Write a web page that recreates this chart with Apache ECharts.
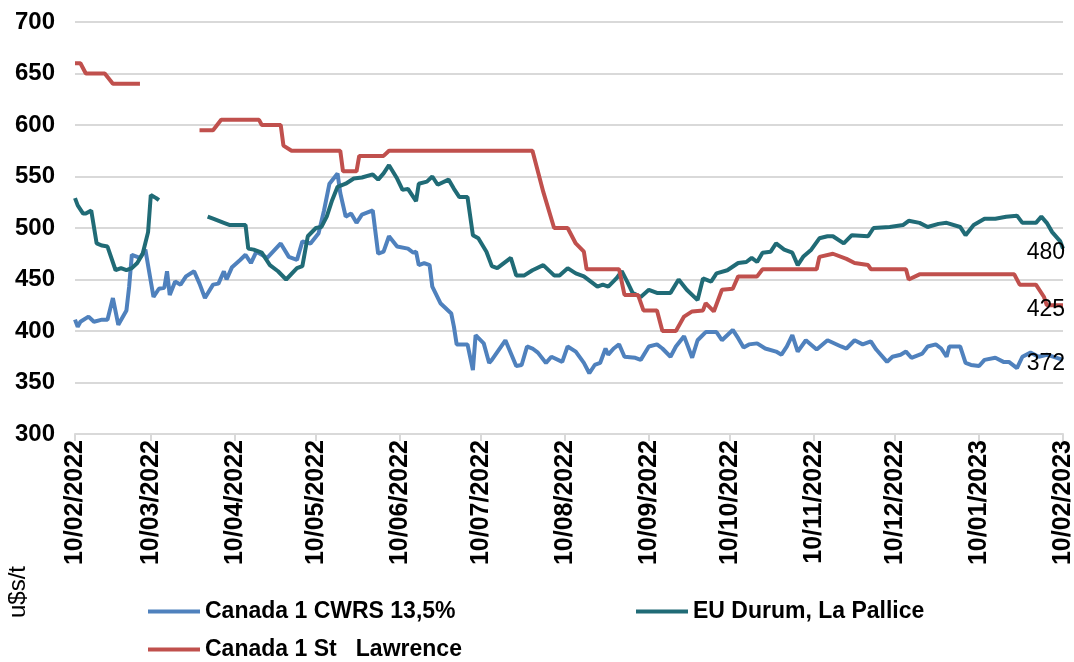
<!DOCTYPE html>
<html>
<head>
<meta charset="utf-8">
<script src="https://cdn.jsdelivr.net/npm/echarts@6/dist/echarts.min.js"></script>
<style>
  html, body { margin: 0; padding: 0; background: #fff; }
  #main { width: 1074px; height: 662px; }
</style>
</head>
<body>
<div id="main"></div>
<script>
// 周期: 10/02/2022 - 10/02/2023, u$s/t
const startDate = '2022-02-10';
const endDate = '2023-02-10';
const tickDates = ['2022-02-10', '2022-03-10', '2022-04-10', '2022-05-10', '2022-06-10', '2022-07-10',
  '2022-08-10', '2022-09-10', '2022-10-10', '2022-11-10', '2022-12-10', '2023-01-10', '2023-02-10'];
const yTicks = [300, 350, 400, 450, 500, 550, 600, 650, 700];

const seriesNames = ['Canada 1 CWRS 13,5%', 'EU Durum, La Pallice', 'Canada 1 St   Lawrence'];
const seriesColors = ['#4F81BD', '#206B76', '#C0504D'];

const cwrs = [
  ['2022-02-10', 411], ['2022-02-11', 404], ['2022-02-12', 409], ['2022-02-15', 414], ['2022-02-17', 409],
  ['2022-02-20', 411], ['2022-02-22', 411], ['2022-02-24', 432], ['2022-02-26', 406], ['2022-03-01', 420],
  ['2022-03-02', 443], ['2022-03-03', 474], ['2022-03-06', 471], ['2022-03-08', 479], ['2022-03-11', 433],
  ['2022-03-13', 441], ['2022-03-15', 442], ['2022-03-16', 458], ['2022-03-17', 435], ['2022-03-19', 448],
  ['2022-03-21', 445], ['2022-03-23', 453], ['2022-03-26', 458], ['2022-03-28', 446], ['2022-03-30', 432],
  ['2022-04-02', 445], ['2022-04-04', 446], ['2022-04-06', 458], ['2022-04-07', 450], ['2022-04-09', 462],
  ['2022-04-12', 469], ['2022-04-14', 474], ['2022-04-16', 466], ['2022-04-18', 477], ['2022-04-22', 471],
  ['2022-04-27', 485], ['2022-04-30', 472], ['2022-05-03', 469], ['2022-05-05', 487], ['2022-05-08', 485],
  ['2022-05-11', 495], ['2022-05-13', 517], ['2022-05-15', 543], ['2022-05-18', 553], ['2022-05-19', 534],
  ['2022-05-21', 511], ['2022-05-23', 514], ['2022-05-25', 505], ['2022-05-27', 513], ['2022-05-31', 517],
  ['2022-06-02', 475], ['2022-06-04', 477], ['2022-06-06', 492], ['2022-06-09', 482], ['2022-06-13', 480],
  ['2022-06-15', 476], ['2022-06-16', 477], ['2022-06-17', 464], ['2022-06-19', 466], ['2022-06-21', 464],
  ['2022-06-22', 443], ['2022-06-25', 427], ['2022-06-29', 417], ['2022-06-30', 404], ['2022-07-01', 387],
  ['2022-07-05', 387], ['2022-07-07', 362], ['2022-07-08', 396], ['2022-07-11', 388], ['2022-07-13', 369],
  ['2022-07-14', 372], ['2022-07-19', 391], ['2022-07-23', 366], ['2022-07-25', 367], ['2022-07-27', 385],
  ['2022-07-29', 383], ['2022-07-31', 379], ['2022-08-03', 369], ['2022-08-05', 375], ['2022-08-09', 370],
  ['2022-08-11', 385], ['2022-08-14', 380], ['2022-08-17', 369], ['2022-08-19', 359], ['2022-08-21', 367],
  ['2022-08-23', 369], ['2022-08-25', 383], ['2022-08-26', 377], ['2022-08-28', 383], ['2022-08-30', 387],
  ['2022-09-01', 375], ['2022-09-05', 374], ['2022-09-07', 372], ['2022-09-10', 385], ['2022-09-13', 387],
  ['2022-09-15', 383], ['2022-09-18', 375], ['2022-09-20', 385], ['2022-09-23', 395], ['2022-09-26', 374],
  ['2022-09-28', 391], ['2022-10-01', 399], ['2022-10-05', 399], ['2022-10-07', 391], ['2022-10-11', 401],
  ['2022-10-13', 393], ['2022-10-15', 384], ['2022-10-17', 387], ['2022-10-20', 388], ['2022-10-23', 383],
  ['2022-10-27', 380], ['2022-10-29', 377], ['2022-10-31', 385], ['2022-11-02', 396], ['2022-11-04', 380],
  ['2022-11-07', 391], ['2022-11-11', 382], ['2022-11-15', 391], ['2022-11-20', 385], ['2022-11-22', 383],
  ['2022-11-25', 391], ['2022-11-28', 387], ['2022-12-01', 390], ['2022-12-03', 382], ['2022-12-07', 370],
  ['2022-12-09', 375], ['2022-12-12', 377], ['2022-12-14', 380], ['2022-12-16', 374], ['2022-12-20', 378],
  ['2022-12-22', 385], ['2022-12-25', 387], ['2022-12-27', 383], ['2022-12-29', 375], ['2022-12-30', 385],
  ['2023-01-03', 385], ['2023-01-05', 369], ['2023-01-07', 367], ['2023-01-10', 366], ['2023-01-12', 372],
  ['2023-01-16', 374], ['2023-01-19', 370], ['2023-01-21', 370], ['2023-01-24', 364], ['2023-01-26', 375],
  ['2023-01-29', 379], ['2023-02-01', 375], ['2023-02-04', 377], ['2023-02-10', 372]
];

const durum = [
  ['2022-02-10', 529], ['2022-02-11', 522], ['2022-02-13', 514], ['2022-02-14', 514], ['2022-02-16', 517],
  ['2022-02-18', 485], ['2022-02-20', 483], ['2022-02-22', 482], ['2022-02-25', 459], ['2022-02-27', 461],
  ['2022-03-01', 459], ['2022-03-03', 461], ['2022-03-05', 466], ['2022-03-07', 475], ['2022-03-09', 496],
  ['2022-03-10', 532], ['2022-03-12', 529], ['2022-03-13', 527],
  ['2022-03-22', null],
  ['2022-03-31', 511], ['2022-04-02', 509], ['2022-04-06', 505], ['2022-04-08', 503], ['2022-04-14', 503],
  ['2022-04-15', 480], ['2022-04-17', 479], ['2022-04-20', 476], ['2022-04-23', 464], ['2022-04-26', 458],
  ['2022-04-29', 450], ['2022-05-03', 461], ['2022-05-05', 463], ['2022-05-07', 492], ['2022-05-10', 500],
  ['2022-05-12', 501], ['2022-05-14', 511], ['2022-05-16', 527], ['2022-05-18', 540], ['2022-05-21', 543],
  ['2022-05-24', 548], ['2022-05-27', 549], ['2022-05-31', 552], ['2022-06-02', 547], ['2022-06-04', 553],
  ['2022-06-06', 561], ['2022-06-09', 548], ['2022-06-11', 537], ['2022-06-13', 538], ['2022-06-16', 526],
  ['2022-06-17', 543], ['2022-06-20', 545], ['2022-06-22', 550], ['2022-06-24', 542], ['2022-06-28', 547],
  ['2022-06-30', 538], ['2022-07-02', 530], ['2022-07-05', 530], ['2022-07-07', 493], ['2022-07-09', 490],
  ['2022-07-12', 477], ['2022-07-14', 463], ['2022-07-16', 461], ['2022-07-21', 471], ['2022-07-23', 454],
  ['2022-07-26', 454], ['2022-07-29', 459], ['2022-08-02', 464], ['2022-08-06', 454], ['2022-08-08', 454],
  ['2022-08-11', 461], ['2022-08-14', 456], ['2022-08-17', 453], ['2022-08-22', 443], ['2022-08-24', 445],
  ['2022-08-26', 443], ['2022-08-29', 451], ['2022-08-31', 458], ['2022-09-02', 448], ['2022-09-04', 437],
  ['2022-09-07', 433], ['2022-09-10', 440], ['2022-09-13', 437], ['2022-09-18', 437], ['2022-09-21', 450],
  ['2022-09-24', 440], ['2022-09-28', 430], ['2022-09-30', 451], ['2022-10-03', 448], ['2022-10-05', 456],
  ['2022-10-09', 459], ['2022-10-13', 466], ['2022-10-16', 467], ['2022-10-18', 471], ['2022-10-20', 467],
  ['2022-10-22', 476], ['2022-10-25', 477], ['2022-10-27', 485], ['2022-10-30', 479], ['2022-11-02', 476],
  ['2022-11-04', 464], ['2022-11-06', 472], ['2022-11-09', 479], ['2022-11-12', 490], ['2022-11-15', 492],
  ['2022-11-17', 492], ['2022-11-21', 485], ['2022-11-24', 493], ['2022-11-30', 492], ['2022-12-02', 500],
  ['2022-12-08', 501], ['2022-12-13', 503], ['2022-12-15', 507], ['2022-12-19', 505], ['2022-12-22', 501],
  ['2022-12-26', 504], ['2022-12-29', 505], ['2023-01-03', 501], ['2023-01-05', 493], ['2023-01-08', 503],
  ['2023-01-12', 509], ['2023-01-16', 509], ['2023-01-20', 511], ['2023-01-24', 512], ['2023-01-26', 505],
  ['2023-01-31', 505], ['2023-02-02', 511], ['2023-02-04', 505], ['2023-02-06', 496], ['2023-02-09', 487],
  ['2023-02-10', 480]
];

const stLawrence = [
  ['2022-02-10', 660], ['2022-02-12', 660], ['2022-02-14', 650], ['2022-02-21', 650], ['2022-02-24', 640],
  ['2022-03-06', 640],
  ['2022-03-17', null],
  ['2022-03-28', 595], ['2022-04-02', 595], ['2022-04-05', 605], ['2022-04-19', 605], ['2022-04-20', 600],
  ['2022-04-27', 600], ['2022-04-28', 580], ['2022-05-01', 575], ['2022-05-19', 575], ['2022-05-20', 555],
  ['2022-05-25', 555], ['2022-05-26', 570], ['2022-06-04', 570], ['2022-06-06', 575], ['2022-07-29', 575],
  ['2022-08-02', 535], ['2022-08-06', 500], ['2022-08-11', 500], ['2022-08-14', 485], ['2022-08-17', 477],
  ['2022-08-18', 460], ['2022-08-30', 460], ['2022-09-01', 435], ['2022-09-06', 435], ['2022-09-08', 420],
  ['2022-09-13', 420], ['2022-09-15', 400], ['2022-09-20', 400], ['2022-09-23', 414], ['2022-09-26', 419],
  ['2022-09-30', 420], ['2022-10-01', 427], ['2022-10-04', 419], ['2022-10-06', 433], ['2022-10-07', 440],
  ['2022-10-11', 441], ['2022-10-13', 453], ['2022-10-20', 453], ['2022-10-22', 460], ['2022-11-11', 460],
  ['2022-11-12', 472], ['2022-11-17', 475], ['2022-11-22', 470], ['2022-11-25', 466], ['2022-11-30', 464],
  ['2022-12-01', 460], ['2022-12-14', 460], ['2022-12-15', 450], ['2022-12-19', 455], ['2023-01-23', 455],
  ['2023-01-25', 445], ['2023-01-31', 445], ['2023-02-03', 433], ['2023-02-04', 425], ['2023-02-10', 425]
];

const seriesData = [cwrs, durum, stLawrence];
const fontFamily = "'Liberation Sans', Arial, sans-serif";

// 'YYYY-MM-DD' -> 本地时间戳
function toTs(s) {
  let p = s.split('-');
  return new Date(+p[0], +p[1] - 1, +p[2]).getTime();
}

function fmtDate(v) {
  let d = new Date(Math.round(v));
  let dd = ('0' + d.getDate()).slice(-2);
  let mm = ('0' + (d.getMonth() + 1)).slice(-2);
  return dd + '/' + mm + '/' + d.getFullYear();
}

const tickTs = tickDates.map(toTs);

let _series = [];
seriesNames.forEach((el, index) => {
  _series.push({
    name: el,
    type: 'line',
    data: seriesData[index].map(p => [toTs(p[0]), p[1]]),
    showSymbol: false,
    symbol: 'none',
    connectNulls: false,
    itemStyle: { color: seriesColors[index] },
    lineStyle: { color: seriesColors[index], width: 4 },
    endLabel: {
      show: true,
      formatter: (p) => p.value[1],
      align: 'right',
      distance: 2,
      offset: [0, 4],
      color: '#000',
      fontSize: 23,
      fontFamily: fontFamily
    }
  });
});

const legendText = { color: '#000', fontSize: 23, fontWeight: 'bold', fontFamily: fontFamily };
const legendBase = { icon: 'rect', itemWidth: 52, itemHeight: 4, textStyle: legendText, padding: 0 };

let option = {
  animation: false,
  backgroundColor: '#fff',
  grid: { left: 75, right: 11, top: 22, bottom: 228, containLabel: false, outerBoundsMode: 'none' },
  legend: [
    Object.assign({ data: [seriesNames[0]], left: 148, top: 600 }, legendBase),
    Object.assign({ data: [seriesNames[1]], left: 636, top: 600 }, legendBase),
    Object.assign({ data: [seriesNames[2]], left: 148, top: 638 }, legendBase)
  ],
  xAxis: {
    type: 'value',
    min: toTs(startDate),
    max: toTs(endDate),
    axisLine: { lineStyle: { color: '#d9d9d9', width: 2 } },
    axisTick: { show: true, customValues: tickTs, length: 7, lineStyle: { color: '#d9d9d9', width: 2 } },
    axisLabel: {
      customValues: tickTs,
      rotate: 90,
      margin: 6,
      formatter: fmtDate,
      color: '#000',
      fontSize: 25,
      fontWeight: 'bold',
      fontFamily: fontFamily,
      hideOverlap: false
    },
    splitLine: { show: false }
  },
  yAxis: {
    type: 'value',
    min: yTicks[0],
    max: yTicks[yTicks.length - 1],
    interval: 50,
    axisLine: { show: false },
    axisTick: { show: false },
    axisLabel: { color: '#000', fontSize: 24, fontWeight: 'bold', fontFamily: fontFamily, margin: 20 },
    splitLine: { lineStyle: { color: '#d9d9d9', width: 2 } }
  },
  graphic: [{
    type: 'text',
    x: 18,
    y: 592,
    rotation: Math.PI / 2,
    style: { text: 'u$s/t', fill: '#000', font: "24px 'Liberation Sans', Arial", textAlign: 'center', textVerticalAlign: 'middle' }
  }],
  series: _series
};

let myChart = echarts.init(document.getElementById('main'));
myChart.setOption(option);
</script>
</body>
</html>
